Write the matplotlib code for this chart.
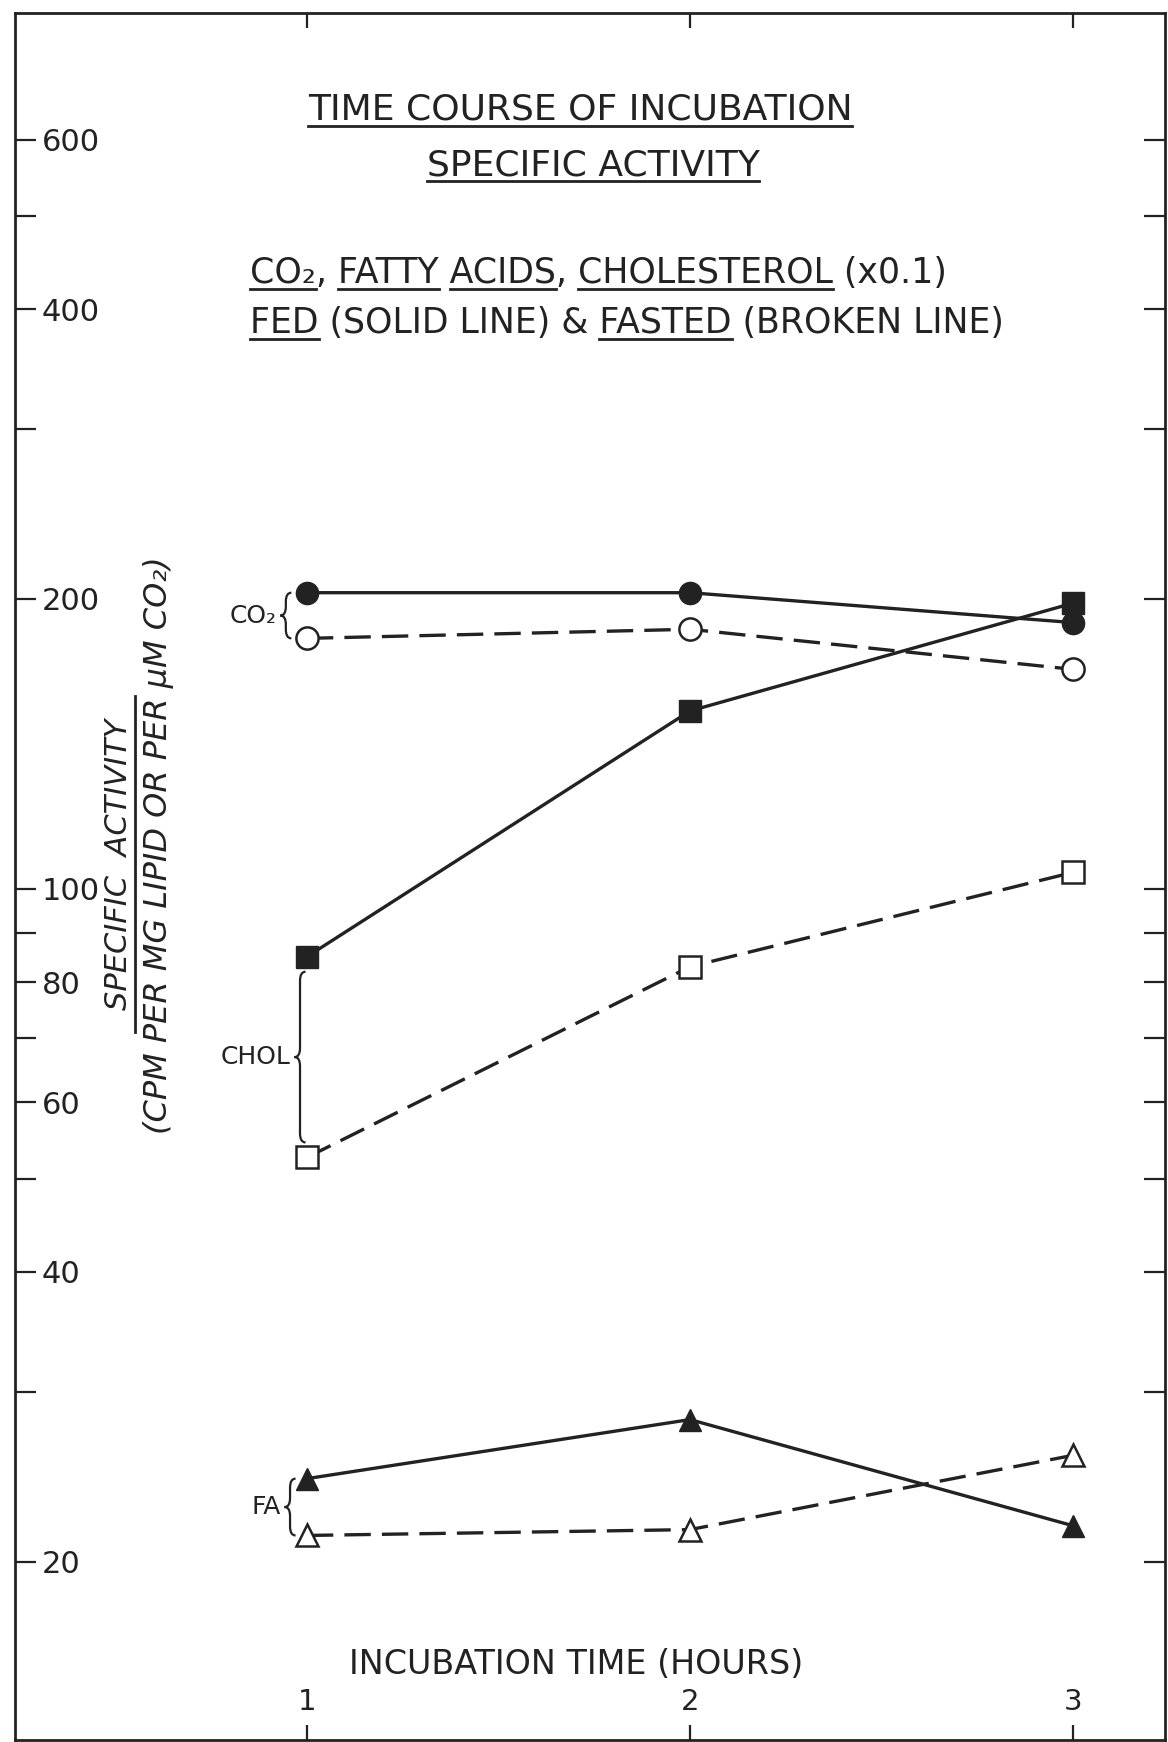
import matplotlib
matplotlib.use("Agg")
import matplotlib.pyplot as plt
from matplotlib.path import Path
from matplotlib.patches import PathPatch
from matplotlib.lines import Line2D
from matplotlib.transforms import IdentityTransform
from matplotlib.font_manager import FontProperties
from matplotlib.ticker import NullFormatter

plt.rcParams['font.family'] = ['DejaVu Sans']
plt.rcParams['lines.scale_dashes'] = False

# data (specific activity, log axis)
hours = [1, 2, 3]
co2_fed = [203, 203, 189]
co2_fasted = [182, 186, 169]
chol_fed = [85, 153, 198]
chol_fasted = [52.6, 83, 104]
fa_fed = [24.4, 28.1, 21.8]
fa_fasted = [21.3, 21.6, 25.8]

y_major = [20, 40, 60, 80, 100, 200, 400, 600]
y_major_labels = ['20', '40', '60', '80', '100', '200', '400', '600']
y_minor = [30, 50, 70, 90, 300, 500]
x_ticks = [1, 2, 3]
x_tick_labels = ['1', '2', '3']

W, H = 1168, 1742
INK = '#222222'


def fx(px):
    return px / W


def fy(py):
    return 1 - py / H


fig = plt.figure(figsize=(W / 100, H / 100), dpi=100)
ax = fig.add_axes([fx(15), fy(1740), fx(1165) - fx(15), fy(13) - fy(1740)])

solid = dict(color=INK, lw=2.4, ls='-', ms=16, zorder=3)
broken = dict(color=INK, lw=2.4, ls=(0, (19, 8)), ms=16, mfc='white', mec=INK, mew=1.8, zorder=3)

ax.plot(hours, co2_fed, marker='o', **solid)
ax.plot(hours, co2_fasted, marker='o', **broken)
ax.plot(hours, chol_fed, marker='s', **solid)
ax.plot(hours, chol_fasted, marker='s', **broken)
ax.plot(hours, fa_fed, marker='^', **solid)
ax.plot(hours, fa_fasted, marker='^', **broken)

ax.set_yscale('log')
ax.set_xlim(0.238, 3.24)
ax.set_ylim(13.06, 812)

ax.set_yticks(y_major, labels=y_major_labels)
ax.set_yticks(y_minor, minor=True)
ax.yaxis.set_minor_formatter(NullFormatter())
ax.set_xticks(x_ticks, labels=x_tick_labels)

ax.tick_params(axis='y', which='both', direction='in', length=15, width=1.6,
               left=True, right=True, labelleft=True, labelright=False,
               pad=-19, labelsize=22, colors=INK)
ax.tick_params(axis='x', which='major', direction='in', length=11, width=1.6,
               top=True, bottom=True, pad=-17, labelsize=21, colors=INK)
for lab in ax.get_yticklabels():
    lab.set_ha('left')
for lab in ax.get_xticklabels():
    lab.set_va('bottom')
for sp in ax.spines.values():
    sp.set_linewidth(2)
    sp.set_color(INK)

renderer = fig.canvas.get_renderer()


def text_width(s, size):
    fp = FontProperties(family='DejaVu Sans', size=size)
    w, h, d = renderer.get_text_width_height_descent(s, fp, ismath=False)
    return w


def underline(x0, x1, ybase):
    fig.add_artist(Line2D([x0, x1], [H - ybase - 6, H - ybase - 6], lw=2,
                          color=INK, transform=IdentityTransform()))


def heading(s, x, ybase, size, under=(), centered=False):
    total = text_width(s, size)
    left = x - total / 2 if centered else x
    fig.text(fx(x), fy(ybase), s, ha='center' if centered else 'left',
             va='baseline', fontsize=size, color=INK)
    for word in under:
        i = s.index(word)
        end = left + text_width(s[:i + len(word)], size)
        underline(end - text_width(word, size), end, ybase)


heading('TIME COURSE OF INCUBATION', 580, 120, 26, ['TIME COURSE OF INCUBATION'], centered=True)
heading('SPECIFIC ACTIVITY', 593, 175, 26, ['SPECIFIC ACTIVITY'], centered=True)
heading('CO₂, FATTY ACIDS, CHOLESTEROL (x0.1)', 250, 283, 25,
        ['CO₂', 'FATTY', 'ACIDS', 'CHOLESTEROL'])
heading('FED (SOLID LINE) & FASTED (BROKEN LINE)', 250, 333, 25, ['FED', 'FASTED'])

# y axis label as a fraction
fig.text(fx(119), fy(864), 'SPECIFIC  ACTIVITY', rotation=90, ha='center', va='center',
         fontsize=22, style='italic', color=INK)
fig.add_artist(Line2D([135, 135], [H - 696, H - 1032], lw=2, color=INK,
                      transform=IdentityTransform()))
fig.text(fx(159), fy(845), '(CPM PER MG LIPID OR PER μM CO₂)', rotation=90, ha='center',
         va='center', fontsize=23, style='italic', color=INK)

fig.text(fx(576), fy(1674), 'INCUBATION TIME (HOURS)', ha='center', va='baseline',
         fontsize=24, color=INK)


def curly_brace(x, y_top, y_bot, label, inset=0, w=11):
    px, pt = ax.transData.transform((x, y_top))
    _, pb = ax.transData.transform((x, y_bot))
    pt -= inset
    pb += inset
    pm = (pt + pb) / 2
    r = min(9, (pt - pb) / 4)
    verts = [(px + w / 2, pt), (px, pt), (px, pt - r),
             (px, pm + r),
             (px, pm), (px - w / 2, pm),
             (px, pm), (px, pm - r),
             (px, pb + r),
             (px, pb), (px + w / 2, pb)]
    codes = [Path.MOVETO, Path.CURVE3, Path.CURVE3,
             Path.LINETO,
             Path.CURVE3, Path.CURVE3,
             Path.CURVE3, Path.CURVE3,
             Path.LINETO,
             Path.CURVE3, Path.CURVE3]
    fig.add_artist(PathPatch(Path(verts, codes), fill=False, lw=1.6, ec=INK,
                             transform=IdentityTransform()))
    fig.text(fx(px - w / 2 - 4), pm / H, label, ha='right', va='center',
             fontsize=18, color=INK)


curly_brace(0.945, co2_fed[0], co2_fasted[0], 'CO₂')
curly_brace(0.982, chol_fed[0], chol_fasted[0], 'CHOL', inset=15)
curly_brace(0.956, fa_fed[0], fa_fasted[0], 'FA')

fig.savefig('out.png', dpi=100)
